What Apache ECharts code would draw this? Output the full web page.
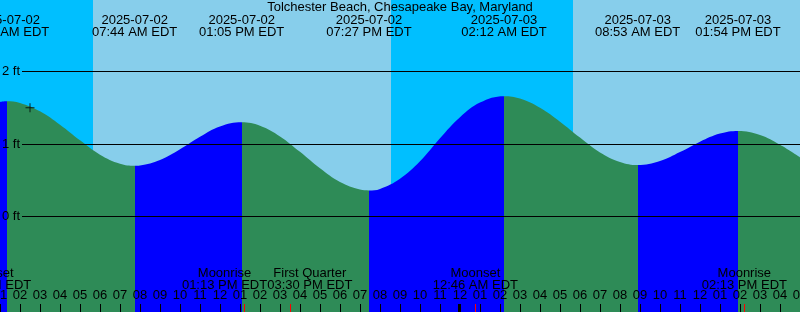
<!DOCTYPE html>
<html><head><meta charset="utf-8">
<script src="https://cdn.jsdelivr.net/npm/echarts@6/dist/echarts.min.js"></script>
<style>html,body{margin:0;padding:0;background:#fff;overflow:hidden}#chart{width:800px;height:312px}</style>
</head><body><div id="chart"></div>
<script>
// ------------------------------------------------------------------ data
const chartTitle = 'Tolchester Beach, Chesapeake Bay, Maryland';
const startDate = '2025-07-02';
const startHour = 1;   // 01:00 on startDate
const endHour = 41;    // 17:00 on next day

// tide extremes (high / low)
const tideTypes = ['High', 'Low', 'High', 'Low', 'High', 'Low', 'High'];
const tideDates = ['2025-07-02', '2025-07-02', '2025-07-02', '2025-07-02', '2025-07-03', '2025-07-03', '2025-07-03'];
const tideClock = ['01:20 AM EDT', '07:44 AM EDT', '01:05 PM EDT', '07:27 PM EDT', '02:12 AM EDT', '08:53 AM EDT', '01:54 PM EDT'];
const tideFeet = [1.59, 0.70, 1.30, 0.36, 1.66, 0.71, 1.18];

// hourly water level readings (hours since midnight of startDate, feet)
const readingHours = [1, 2, 3, 4, 5, 6, 7, 8, 9, 10, 11, 12, 14, 15, 16, 17, 18, 19, 20, 21,
  22, 23, 24, 25, 27, 28, 29, 30, 31, 32, 34, 35, 36, 37, 39, 40, 41];
const readingFeet = [1.58, 1.566, 1.45, 1.265, 1.05, 0.853, 0.728, 0.704, 0.779, 0.928, 1.10, 1.242,
  1.252, 1.105, 0.892, 0.664, 0.475, 0.372, 0.381, 0.522, 0.762, 1.08, 1.37, 1.572,
  1.627, 1.50, 1.308, 1.088, 0.884, 0.752, 0.765, 0.888, 1.032, 1.144, 1.125, 0.99, 0.818];

// moon events
const moonNames = ['Moonset', 'Moonrise', 'First Quarter', 'Moonset', 'Moonrise'];
const moonDates = ['2025-07-02', '2025-07-02', '2025-07-02', '2025-07-03', '2025-07-03'];
const moonClock = ['12:26 AM EDT', '01:13 PM EDT', '03:30 PM EDT', '12:46 AM EDT', '02:13 PM EDT'];

// sun events
const sunNames = ['Sunrise', 'Sunset', 'Sunrise'];
const sunDates = ['2025-07-02', '2025-07-02', '2025-07-03'];
const sunClock = ['05:39 AM EDT', '08:33 PM EDT', '05:39 AM EDT'];

// level grid lines (feet)
const feetTicks = [0, 1, 2];

// '+' marker
const markHour = 2.5;
const markFeet = 1.50;

// ------------------------------------------------------------------ style
const FONT_FAMILY = '"Liberation Sans", Arial, sans-serif';
const FONT_SIZE = 13;
const FONT = FONT_SIZE + 'px ' + FONT_FAMILY;
const C_RISE = '#0000ff', C_FALL = '#2e8b57', C_DAY = '#87ceeb', C_NIGHT = '#00bfff', C_TEXT = '#000000';
const Y_MIN = -1.317, Y_MAX = 2.986;
const GRID_LINE_START = 1.1;      // hours after startHour where level lines begin
const Y_TITLE = 7, Y_DATE = 20.5, Y_TIME = 32, Y_EVT = 273.7, Y_EVT_TIME = 285.3;
const TICK_LEN = 8;

// ------------------------------------------------------------------ helpers
function toHours(date, clock) {
  const days = (Date.parse(date) - Date.parse(startDate)) / 864e5;
  const m = clock.match(/(\d+):(\d+)\s*(AM|PM)/);
  let h = (+m[1]) % 12 + (m[3] === 'PM' ? 12 : 0);
  return days * 24 + h + (+m[2]) / 60;
}
const pad2 = n => (n < 10 ? '0' : '') + n;
const tideHours = tideDates.map((d, i) => toHours(d, tideClock[i]));
const moonHours = moonDates.map((d, i) => toHours(d, moonClock[i]));
const sunHours = sunDates.map((d, i) => toHours(d, sunClock[i]));

const curve = readingHours.map((h, i) => [h, readingFeet[i]])
  .concat(tideHours.map((h, i) => [h, tideFeet[i]]))
  .sort((a, b) => a[0] - b[0]);

// rising (blue) / falling (green) pieces by time
const pieces = [];
tideHours.forEach((h, i) => {
  const p = { lt: h, color: tideTypes[i] === 'High' ? C_RISE : C_FALL };
  if (i > 0) p.gte = tideHours[i - 1];
  pieces.push(p);
});
const lastT = tideHours.length - 1;
pieces.push({ gte: tideHours[lastT], color: tideTypes[lastT] === 'High' ? C_FALL : C_RISE });

// day / night bands
const skyBands = [];
let prevH = startHour;
sunHours.forEach((h, i) => { skyBands.push([prevH, h, sunNames[i] === 'Sunrise' ? 0 : 1]); prevH = h; });
skyBands.push([prevH, endHour, sunNames[sunNames.length - 1] === 'Sunrise' ? 1 : 0]);

// midnights in range
const midnights = [];
for (let h = 24; h < endHour; h += 24) midnights.push([h, 0]);

const measureCtx = document.createElement('canvas').getContext('2d');
measureCtx.font = FONT;
const textW = s => measureCtx.measureText(s).width;

function txt(x, y, s, align) {
  const a = align || 'center';
  return { type: 'text', x: x, y: y, style: { text: s, font: FONT, fill: C_TEXT,
    align: a, verticalAlign: 'middle', textAlign: a, textVerticalAlign: 'middle' } };
}
function resolveCenters(xs, widths) {
  const c = xs.slice();
  for (let it = 0; it < 20; it++) {
    for (let i = 1; i < c.length; i++) {
      const gap = (c[i] - widths[i] / 2) - (c[i - 1] + widths[i - 1] / 2);
      if (gap < 0) { c[i - 1] += gap / 2; c[i] -= gap / 2; }
    }
  }
  return c;
}
const moonWidths = moonNames.map((n, i) => Math.max(textW(n), textW(moonClock[i])));

// ------------------------------------------------------------------ chart
const chart = echarts.init(document.getElementById('chart'), null, { renderer: 'canvas' });
chart.setOption({
  animation: false,
  backgroundColor: '#ffffff',
  graphic: [{ type: 'text', x: 400, y: Y_TITLE, z: 100,
    style: { text: chartTitle, font: FONT, fill: C_TEXT, align: 'center', verticalAlign: 'middle',
      textAlign: 'center', textVerticalAlign: 'middle' } }],
  grid: { left: 0, right: 0, top: 0, bottom: 0, containLabel: false, outerBoundsMode: 'none' },
  xAxis: {
    type: 'value', min: startHour, max: endHour, interval: 1, position: 'bottom',
    axisLine: { show: false, onZero: false },
    splitLine: { show: false },
    axisTick: { show: true, inside: true, length: TICK_LEN, lineStyle: { color: '#000', width: 1 } },
    axisLabel: { inside: true, margin: 10, color: C_TEXT, fontSize: FONT_SIZE, fontFamily: FONT_FAMILY,
      lineHeight: 13, showMinLabel: true, showMaxLabel: true, hideOverlap: false,
      formatter: v => { const r = Math.round(v) % 12; return r === 0 ? '12' : pad2(r); } },
    z: 10
  },
  yAxis: {
    type: 'value', min: Y_MIN, max: Y_MAX, position: 'left', show: false,
    axisLine: { show: false, onZero: false }, axisTick: { show: false }, splitLine: { show: false }
  },
  visualMap: { type: 'piecewise', show: false, dimension: 0, seriesIndex: 1, pieces: pieces },
  series: [
    { type: 'custom', name: 'sky', z: 0, silent: true, data: skyBands, encode: { x: [0, 1] },
      renderItem: (params, api) => {
        const cs = params.coordSys;
        const x0 = api.coord([api.value(0), 0])[0];
        const x1 = api.coord([api.value(1), 0])[0];
        return { type: 'rect', shape: { x: x0, y: cs.y, width: x1 - x0, height: cs.height },
          style: { fill: api.value(2) ? C_DAY : C_NIGHT } };
      } },
    { type: 'line', name: 'tide', z: 2, data: curve, smooth: 0.4, showSymbol: false, silent: true,
      lineStyle: { width: 0 }, areaStyle: { opacity: 1, origin: 'start' } },
    { type: 'scatter', name: 'mark', z: 4, silent: true, data: [[markHour, markFeet]],
      symbol: 'path://M0,4H9V5H0Z M4,0H5V9H4Z', symbolSize: 9, itemStyle: { color: '#000' },
      markLine: { silent: true, symbol: ['none', 'none'], animation: false, label: { show: false },
        lineStyle: { color: '#000', width: 1, type: 'solid' }, emphasis: { disabled: true },
        data: feetTicks.map(v => [{ coord: [startHour + GRID_LINE_START, v] }, { coord: [endHour, v] }]) } },
    { type: 'custom', name: 'levelLabels', z: 6, silent: true, data: feetTicks.map(v => [startHour, v]),
      encode: { x: 0, y: 1 },
      renderItem: (params, api) => {
        const p = api.coord([api.value(0), api.value(1)]);
        return txt(p[0] + 2, p[1], feetTicks[params.dataIndex] + ' ft', 'left');
      } },
    { type: 'custom', name: 'tideLabels', z: 6, silent: true, data: tideHours.map(h => [h, 0]),
      encode: { x: 0, y: 1 },
      renderItem: (params, api) => {
        const i = params.dataIndex;
        const x = api.coord([api.value(0), 0])[0];
        return { type: 'group', children: [txt(x, Y_DATE, tideDates[i]), txt(x, Y_TIME, tideClock[i])] };
      } },
    { type: 'custom', name: 'moonLabels', z: 6, silent: true, data: moonHours.map(h => [h, 0]),
      encode: { x: 0, y: 1 },
      renderItem: (params, api) => {
        const i = params.dataIndex;
        const xs = moonHours.map(h => api.coord([h, 0])[0]);
        const c = resolveCenters(xs, moonWidths);
        return { type: 'group', children: [txt(c[i], Y_EVT, moonNames[i]), txt(c[i], Y_EVT_TIME, moonClock[i])] };
      } },
    { type: 'custom', name: 'moonTicks', z: 7, silent: true, data: moonHours.map(h => [h, 0]),
      encode: { x: 0, y: 1 },
      renderItem: (params, api) => {
        const cs = params.coordSys;
        const x = Math.round(api.coord([api.value(0), 0])[0]) + 0.5;
        const yb = cs.y + cs.height;
        return { type: 'line', shape: { x1: x, y1: yb, x2: x, y2: yb - TICK_LEN },
          style: { stroke: '#ff0000', lineWidth: 1 } };
      } },
    { type: 'custom', name: 'midnightTicks', z: 7, silent: true, data: midnights,
      encode: { x: 0, y: 1 },
      renderItem: (params, api) => {
        const cs = params.coordSys;
        const x = Math.round(api.coord([api.value(0), 0])[0]) - 0.5;
        const yb = cs.y + cs.height;
        return { type: 'line', shape: { x1: x, y1: yb, x2: x, y2: yb - TICK_LEN },
          style: { stroke: '#000000', lineWidth: 3 } };
      } }
  ]
});
</script></body></html>
